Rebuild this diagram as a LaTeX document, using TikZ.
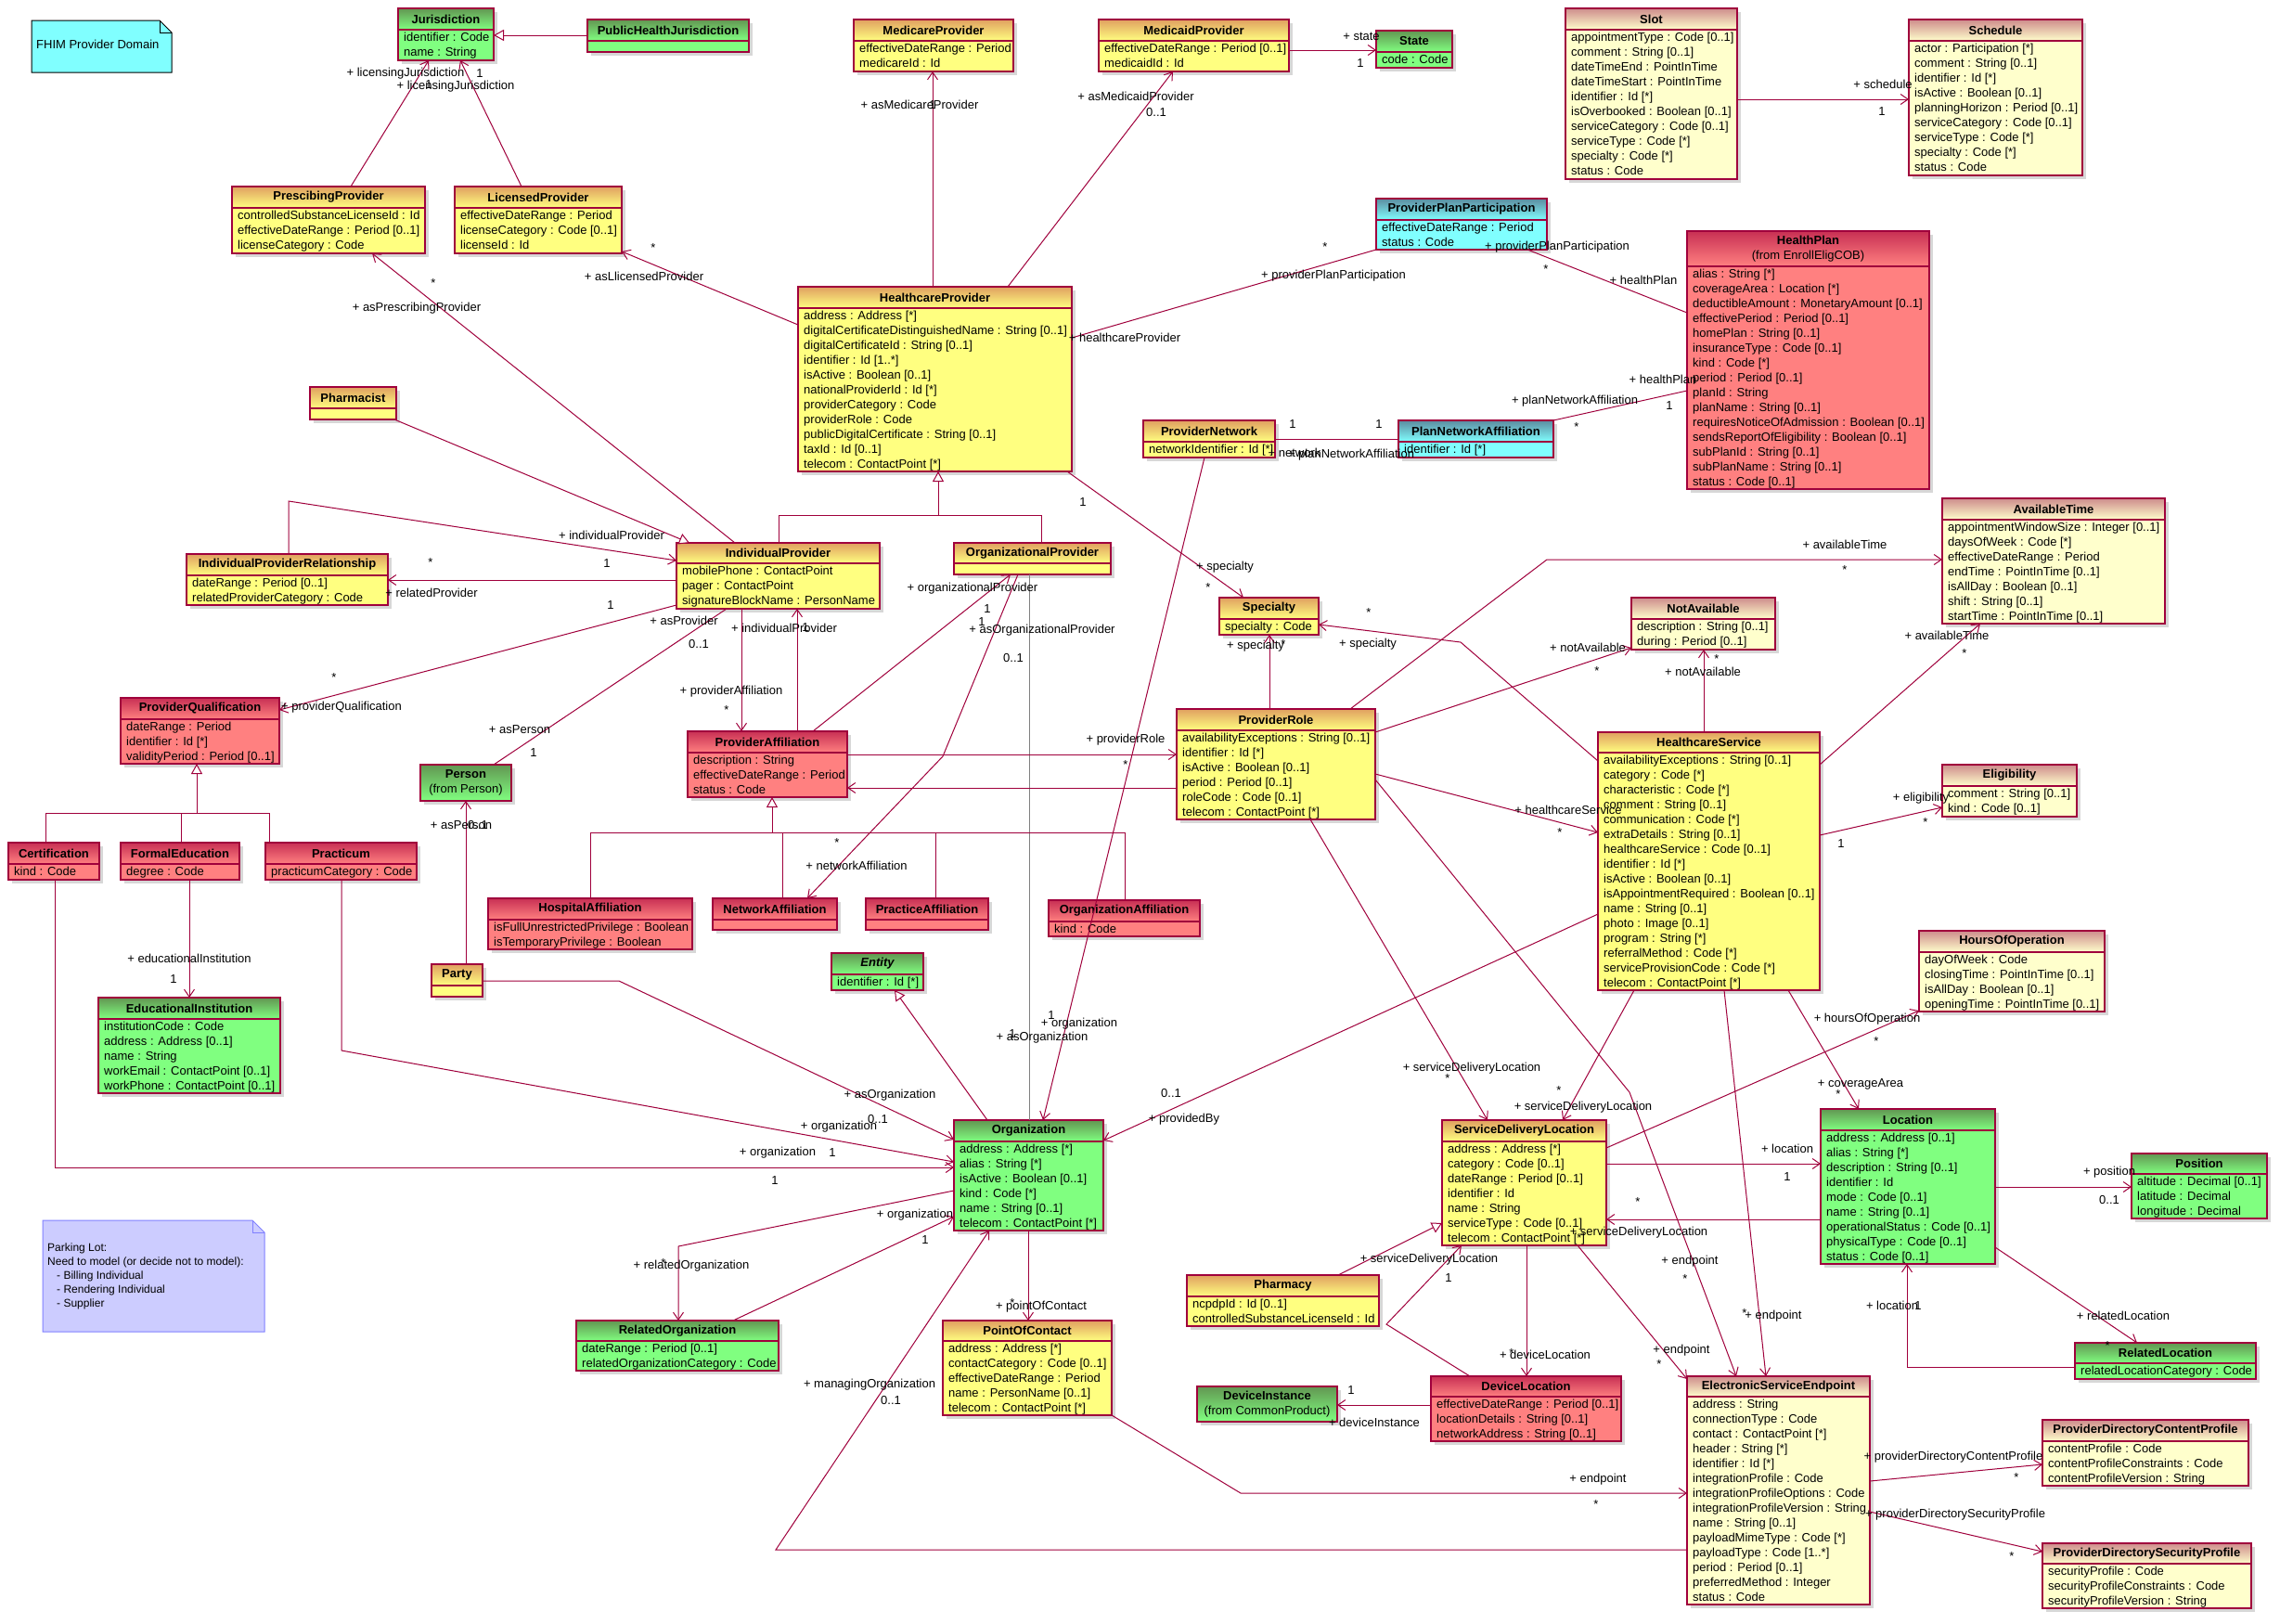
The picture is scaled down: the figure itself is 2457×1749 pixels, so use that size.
\documentclass[tikz,border=0pt]{standalone}
\usepackage{fontspec}
\setmainfont{Liberation Sans}
\usetikzlibrary{arrows.meta}
\definecolor{lc}{RGB}{160,0,60}
\definecolor{yelTop}{RGB}{224,160,96}
\definecolor{yelFill}{RGB}{255,255,128}
\definecolor{lyTop}{RGB}{206,140,140}
\definecolor{lyFill}{RGB}{255,255,204}
\definecolor{redTop}{RGB}{200,48,84}
\definecolor{redFill}{RGB}{255,128,128}
\definecolor{grnTop}{RGB}{98,150,82}
\definecolor{grnFill}{RGB}{128,255,128}
\definecolor{cyTop}{RGB}{92,140,160}
\definecolor{cyFill}{RGB}{128,255,255}
\definecolor{noteC}{RGB}{128,255,255}
\definecolor{parkFill}{RGB}{204,204,255}
\definecolor{parkLine}{RGB}{128,128,255}
\definecolor{shadowc}{RGB}{215,215,215}
\newcounter{labc}
\tikzset{
 lnk/.style={draw=lc, line width=1pt},
 nav/.style={lnk, -{Straight Barb[length=8pt,width=11pt]}},
 assoc/.style={lnk},
 gen/.style={lnk, -{Triangle[open,length=11pt,width=12pt,fill=white]}},
 lbl/.style={inner sep=0pt, font=\fontsize{13}{16}\selectfont},
 ttl/.style={inner sep=0pt, font=\bfseries\fontsize{13}{16}\selectfont, align=center},
 att/.style={inner sep=0pt, anchor=base west, font=\fontsize{13}{16}\selectfont},
 park/.style={inner sep=0pt, anchor=base west, font=\fontsize{12}{15}\selectfont},
}
\newcommand\umlc[9]{%
 \pgfmathsetmacro\uw{#4-#2}%
 \pgfmathsetmacro\uh{#6-#3}%
 \pgfmathsetmacro\ucx{(#2+#4)/2}%
 \pgfmathsetmacro\ucy{(#3+#6)/2}%
 \pgfmathsetmacro\uty{(#3+#5)/2}%
 \fill[shadowc] ({#2+4},{#3+4}) rectangle ({#4+4},{#6+4});
 \node[draw=lc, fill=#7Fill, minimum width=\uw pt, minimum height=\uh pt, inner sep=0pt, outer sep=0pt, line width=1.2pt] (#1) at (\ucx,\ucy) {};
 \shade[top color=#7Top, bottom color=#7Fill] (#2,#3) rectangle (#4,#5);
 \draw[lc, line width=1.2pt] (#2,#3) rectangle (#4,#6) (#2,#5) -- (#4,#5);
 \node[ttl] (#1-t) at (\ucx,\uty) {#8};
 \if\relax\detokenize{#9}\relax\else
 \foreach \attr [count=\i] in {#9} {\node[att] (#1-a\i) at ({#2+6},{#5+12.5+16*(\i-1)}) {\attr};}%
 \fi
}
\newcommand\lab[3]{\stepcounter{labc}\node[lbl] (lab\thelabc) at (#1,#2) {#3};}
\begin{document}
\begin{tikzpicture}[x=1pt,y=-1pt]
\useasboundingbox (0,0) rectangle (2457,1749);
\fill[white] (0,0) rectangle (2457,1749);

% notes
\filldraw[fill=noteC, draw=black, line width=1pt] (34,22) -- (172,22) -- (185,35) -- (185,78) -- (34,78) -- cycle;
\draw[line width=1pt] (172,22) -- (172,35) -- (185,35);
\node[lbl, anchor=west] (fhim) at (39,48) {FHIM Provider Domain};

\filldraw[fill=parkFill, draw=parkLine, line width=1pt] (46,1315) -- (272,1315) -- (285,1328) -- (285,1435) -- (46,1435) -- cycle;
\draw[parkLine, line width=1pt] (272,1315) -- (272,1328) -- (285,1328);
\node[park] (pk1) at (51,1348) {Parking Lot:};
\node[park] (pk2) at (51,1363) {Need to model (or decide not to model):};
\node[park] (pk3) at (61,1378) {- Billing Individual};
\node[park] (pk4) at (61,1393) {- Rendering Individual};
\node[park] (pk5) at (61,1408) {- Supplier};

% classes
\umlc{jur}{429}{9}{532}{32}{65}{grn}{Jurisdiction}{identifier : Code, name : String}
\umlc{phj}{633}{21}{807}{44}{56}{grn}{PublicHealthJurisdiction}{}
\umlc{presc}{250}{201}{458}{224}{273}{yel}{PrescibingProvider}{controlledSubstanceLicenseId : Id, effectiveDateRange : Period [0..1], licenseCategory : Code}
\umlc{lic}{490}{201}{670}{224}{273}{yel}{LicensedProvider}{effectiveDateRange : Period, licenseCategory : Code [0..1], licenseId : Id}
\umlc{medicare}{920}{21}{1092}{44}{77}{yel}{MedicareProvider}{effectiveDateRange : Period, medicareId : Id}
\umlc{medicaid}{1184}{21}{1389}{44}{77}{yel}{MedicaidProvider}{effectiveDateRange : Period [0..1], medicaidId : Id}
\umlc{state}{1483}{33}{1565}{56}{73}{grn}{State}{code : Code}
\umlc{slot}{1687}{9}{1872}{32}{193}{ly}{Slot}{appointmentType : Code [0..1], comment : String [0..1], dateTimeEnd : PointInTime, dateTimeStart : PointInTime, identifier : Id [*], isOverbooked : Boolean [0..1], serviceCategory : Code [0..1], serviceType : Code [*], specialty : Code [*], status : Code}
\umlc{sched}{2057}{21}{2244}{44}{189}{ly}{Schedule}{actor : Participation [*], comment : String [0..1], identifier : Id [*], isActive : Boolean [0..1], planningHorizon : Period [0..1], serviceCategory : Code [0..1], serviceType : Code [*], specialty : Code [*], status : Code}
\umlc{ppp}{1483}{214}{1667}{237}{269}{cy}{ProviderPlanParticipation}{effectiveDateRange : Period, status : Code}
\umlc{hplan}{1818}{249}{2079}{287}{527}{red}{HealthPlan\\\mdseries(from EnrollEligCOB)}{alias : String [*], coverageArea : Location [*], deductibleAmount : MonetaryAmount [0..1], effectivePeriod : Period [0..1], homePlan : String [0..1], insuranceType : Code [0..1], kind : Code [*], period : Period [0..1], planId : String, planName : String [0..1], requiresNoticeOfAdmission : Boolean [0..1], sendsReportOfEligibility : Boolean [0..1], subPlanId : String [0..1], subPlanName : String [0..1], status : Code [0..1]}
\umlc{hcp}{860}{309}{1155}{332}{508}{yel}{HealthcareProvider}{address : Address [*], digitalCertificateDistinguishedName : String [0..1], digitalCertificateId : String [0..1], identifier : Id [1..*], isActive : Boolean [0..1], nationalProviderId : Id [*], providerCategory : Code, providerRole : Code, publicDigitalCertificate : String [0..1], taxId : Id [0..1], telecom : ContactPoint [*]}
\umlc{pharmacist}{334}{417}{427}{440}{452}{yel}{Pharmacist}{}
\umlc{pnet}{1232}{453}{1374}{476}{493}{yel}{ProviderNetwork}{networkIdentifier : Id [*]}
\umlc{pna}{1507}{453}{1674}{476}{493}{cy}{PlanNetworkAffiliation}{identifier : Id [*]}
\umlc{ipr}{201}{597}{418}{620}{652}{yel}{IndividualProviderRelationship}{dateRange : Period [0..1], relatedProviderCategory : Code}
\umlc{indprov}{729}{585}{948}{607}{656}{yel}{IndividualProvider}{mobilePhone : ContactPoint, pager : ContactPoint, signatureBlockName : PersonName}
\umlc{orgprov}{1028}{585}{1197}{607}{619}{yel}{OrganizationalProvider}{}
\umlc{spec}{1314}{644}{1421}{667}{684}{yel}{Specialty}{specialty : Code}
\umlc{notav}{1758}{644}{1913}{667}{700}{ly}{NotAvailable}{description : String [0..1], during : Period [0..1]}
\umlc{avail}{2093}{537}{2333}{560}{672}{ly}{AvailableTime}{appointmentWindowSize : Integer [0..1], daysOfWeek : Code [*], effectiveDateRange : Period, endTime : PointInTime [0..1], isAllDay : Boolean [0..1], shift : String [0..1], startTime : PointInTime [0..1]}
\umlc{pqual}{130}{752}{301}{775}{823}{red}{ProviderQualification}{dateRange : Period, identifier : Id [*], validityPeriod : Period [0..1]}
\umlc{person}{453}{824}{551}{863}{863}{grn}{Person\\\mdseries(from Person)}{}
\umlc{paff}{741}{788}{913}{811}{859}{red}{ProviderAffiliation}{description : String, effectiveDateRange : Period, status : Code}
\umlc{prole}{1268}{764}{1482}{787}{883}{yel}{ProviderRole}{availabilityExceptions : String [0..1], identifier : Id [*], isActive : Boolean [0..1], period : Period [0..1], roleCode : Code [0..1], telecom : ContactPoint [*]}
\umlc{hcs}{1722}{789}{1961}{811}{1067}{yel}{HealthcareService}{availabilityExceptions : String [0..1], category : Code [*], characteristic : Code [*], comment : String [0..1], communication : Code [*], extraDetails : String [0..1], healthcareService : Code [0..1], identifier : Id [*], isActive : Boolean [0..1], isAppointmentRequired : Boolean [0..1], name : String [0..1], photo : Image [0..1], program : String [*], referralMethod : Code [*], serviceProvisionCode : Code [*], telecom : ContactPoint [*]}
\umlc{elig}{2093}{824}{2238}{847}{880}{ly}{Eligibility}{comment : String [0..1], kind : Code [0..1]}
\umlc{cert}{9}{908}{107}{931}{948}{red}{Certification}{kind : Code}
\umlc{formal}{130}{908}{258}{931}{948}{red}{FormalEducation}{degree : Code}
\umlc{pract}{286}{908}{449}{931}{948}{red}{Practicum}{practicumCategory : Code}
\umlc{hosp}{526}{968}{746}{991}{1023}{red}{HospitalAffiliation}{isFullUnrestrictedPrivilege : Boolean, isTemporaryPrivilege : Boolean}
\umlc{netaff}{768}{968}{902}{991}{1002}{red}{NetworkAffiliation}{}
\umlc{practaff}{933}{968}{1065}{991}{1002}{red}{PracticeAffiliation}{}
\umlc{orgaff}{1130}{970}{1293}{993}{1009}{red}{OrganizationAffiliation}{kind : Code}
\umlc{entity}{896}{1027}{995}{1050}{1067}{grn}{\itshape Entity}{identifier : Id [*]}
\umlc{hoo}{2068}{1003}{2268}{1026}{1090}{ly}{HoursOfOperation}{dayOfWeek : Code, closingTime : PointInTime [0..1], isAllDay : Boolean [0..1], openingTime : PointInTime [0..1]}
\umlc{party}{465}{1039}{520}{1062}{1074}{yel}{Party}{}
\umlc{edu}{106}{1075}{302}{1098}{1178}{grn}{EducationalInstitution}{institutionCode : Code, address : Address [0..1], name : String, workEmail : ContactPoint [0..1], workPhone : ContactPoint [0..1]}
\umlc{org}{1028}{1207}{1189}{1230}{1326}{grn}{Organization}{address : Address [*], alias : String [*], isActive : Boolean [0..1], kind : Code [*], name : String [0..1], telecom : ContactPoint [*]}
\umlc{sdl}{1554}{1207}{1731}{1230}{1342}{yel}{ServiceDeliveryLocation}{address : Address [*], category : Code [0..1], dateRange : Period [0..1], identifier : Id, name : String, serviceType : Code [0..1], telecom : ContactPoint [*]}
\umlc{loc}{1962}{1195}{2150}{1218}{1362}{grn}{Location}{address : Address [0..1], alias : String [*], description : String [0..1], identifier : Id, mode : Code [0..1], name : String [0..1], operationalStatus : Code [0..1], physicalType : Code [0..1], status : Code [0..1]}
\umlc{pos}{2297}{1243}{2443}{1265}{1313}{grn}{Position}{altitude : Decimal [0..1], latitude : Decimal, longitude : Decimal}
\umlc{pharmacy}{1279}{1374}{1486}{1397}{1429}{yel}{Pharmacy}{ncpdpId : Id [0..1], controlledSubstanceLicenseId : Id}
\umlc{relorg}{621}{1423}{839}{1445}{1477}{grn}{RelatedOrganization}{dateRange : Period [0..1], relatedOrganizationCategory : Code}
\umlc{poc}{1016}{1423}{1198}{1445}{1525}{yel}{PointOfContact}{address : Address [*], contactCategory : Code [0..1], effectiveDateRange : Period, name : PersonName [0..1], telecom : ContactPoint [*]}
\umlc{relloc}{2236}{1447}{2431}{1469}{1486}{grn}{RelatedLocation}{relatedLocationCategory : Code}
\umlc{devinst}{1290}{1494}{1441}{1532}{1532}{grn}{DeviceInstance\\\mdseries(from CommonProduct)}{}
\umlc{devloc}{1542}{1483}{1747}{1505}{1553}{red}{DeviceLocation}{effectiveDateRange : Period [0..1], locationDetails : String [0..1], networkAddress : String [0..1]}
\umlc{ese}{1818}{1483}{2015}{1505}{1729}{ly}{ElectronicServiceEndpoint}{address : String, connectionType : Code, contact : ContactPoint [*], header : String [*], identifier : Id [*], integrationProfile : Code, integrationProfileOptions : Code, integrationProfileVersion : String, name : String [0..1], payloadMimeType : Code [*], payloadType : Code [1..*], period : Period [0..1], preferredMethod : Integer, status : Code}
\umlc{pdcp}{2201}{1530}{2423}{1553}{1601}{ly}{ProviderDirectoryContentProfile}{contentProfile : Code, contentProfileConstraints : Code, contentProfileVersion : String}
\umlc{pdsp}{2201}{1663}{2426}{1685}{1733}{ly}{ProviderDirectorySecurityProfile}{securityProfile : Code, securityProfileConstraints : Code, securityProfileVersion : String}

% connectors
\draw[gen] (phj.west |- 0,38) -- (jur.east |- 0,38);
\draw[nav] (presc.north -| 378,0) -- (jur.south -| 462,0);
\draw[nav] (lic.north -| 562,0) -- (jur.south -| 496,0);
\draw[nav] (hcp.west |- 0,350) -- (lic.east |- 0,271);
\draw[nav] (indprov.north -| 792,0) -- (presc.south -| 401,0);
\draw[gen] (pharmacist.south -| 425,0) -- (indprov.north -| 743,0);
\draw[nav] (hcp.north -| 1005,0) -- (medicare.south -| 1005,0);
\draw[nav] (hcp.north -| 1086,0) -- (medicaid.south -| 1264,0);
\draw[nav] (medicaid.east |- 0,54) -- (state.west |- 0,54);
\draw[nav] (slot.east |- 0,107) -- (sched.west |- 0,107);
\draw[assoc] (hcp.east |- 0,364) -- (ppp.south west);
\draw[assoc] (ppp.south -| 1646,0) -- (hplan.west |- 0,337);
\draw[assoc] (pna.north east) -- (hplan.west |- 0,421);
\draw[assoc] (pnet.east |- 0,473) -- (pna.west |- 0,473);
\draw[assoc] (indprov.north -| 839,0) -- (839,555) -- (1122,555) -- (orgprov.north -| 1122,0);
\draw[gen] (1011,555) -- (hcp.south -| 1011,0);
\draw[nav] (hcp.south -| 1150,0) -- (spec.north -| 1340,0);
\draw[nav] (prole.north -| 1368,0) -- (spec.south -| 1368,0);
\draw[nav] (hcs.west |- 0,820) -- (1574,692) -- (spec.east |- 0,673);
\draw[nav] (paff.north -| 876,0) -- (orgprov.south -| 1089,0);
\draw[nav] (orgprov.south -| 1097,0) -- (1016,815) -- (netaff.north -| 870,0);
\draw[gray, line width=0.6pt] (orgprov.south -| 1109,0) -- (org.north -| 1109,0);
\draw[nav] (indprov.south -| 799,0) -- (paff.north -| 799,0);
\draw[nav] (paff.north -| 859,0) -- (indprov.south -| 859,0);
\draw[nav] (paff.east |- 0,813) -- (prole.west |- 0,813);
\draw[nav] (prole.west |- 0,849) -- (paff.east |- 0,849);
\draw[nav] (pnet.south -| 1298,0) -- (org.north -| 1124,0);
\draw[nav] (prole.north -| 1455,0) -- (1667,603) -- (avail.west |- 0,603);
\draw[nav] (prole.east |- 0,789) -- (notav.west |- 0,698);
\draw[nav] (prole.east |- 0,834) -- (hcs.west |- 0,897);
\draw[nav] (prole.east |- 0,840) -- (1756,1177) -- (ese.north -| 1871,0);
\draw[nav] (prole.south -| 1412,0) -- (sdl.north -| 1603,0);
\draw[nav] (hcs.west |- 0,985) -- (org.east |- 0,1229);
\draw[nav] (hcs.north -| 1836,0) -- (notav.south -| 1836,0);
\draw[nav] (hcs.east |- 0,824) -- (avail.south -| 2134,0);
\draw[nav] (hcs.east |- 0,900) -- (elig.west |- 0,870);
\draw[nav] (hcs.south -| 1761,0) -- (sdl.north -| 1684,0);
\draw[nav] (hcs.south -| 1858,0) -- (ese.north -| 1903,0);
\draw[nav] (hcs.south -| 1927,0) -- (loc.north -| 2003,0);
\draw[nav] (sdl.east |- 0,1237) -- (hoo.west |- 0,1089);
\draw[nav] (sdl.east |- 0,1254) -- (loc.west |- 0,1254);
\draw[nav] (loc.west |- 0,1314) -- (sdl.east |- 0,1314);
\draw[nav] (loc.east |- 0,1279) -- (pos.west |- 0,1279);
\draw[nav] (loc.east |- 0,1344) -- (relloc.north -| 2303,0);
\draw[nav] (relloc.west |- 0,1473) -- (2055,1473) -- (loc.south -| 2055,0);
\draw[nav] (sdl.south -| 1700,0) -- (ese.west |- 0,1486);
\draw[nav] (sdl.south -| 1645,0) -- (devloc.north -| 1645,0);
\draw[gen] (pharmacy.north -| 1442,0) -- (sdl.west |- 0,1318);
\draw[nav] (devloc.north -| 1584,0) -- (1494,1427) -- (sdl.south -| 1575,0);
\draw[nav] (devloc.west |- 0,1514) -- (devinst.east |- 0,1514);
\draw[nav] (org.south -| 1108,0) -- (poc.north -| 1108,0);
\draw[nav] (poc.south east) -- (1337,1609) -- (ese.west |- 0,1609);
\draw[nav] (ese.west |- 0,1670) -- (836,1670) -- (org.south -| 1066,0);
\draw[nav] (ese.east |- 0,1596) -- (pdcp.west |- 0,1578);
\draw[nav] (ese.east |- 0,1629) -- (pdsp.west |- 0,1672);
\draw[nav] (party.east |- 0,1057) -- (667,1057) -- (org.west |- 0,1228);
\draw[nav] (pract.south -| 368,0) -- (368,1132) -- (org.west |- 0,1252);
\draw[nav] (cert.south -| 59,0) -- (59,1258) -- (org.west |- 0,1258);
\draw[nav] (org.west |- 0,1283) -- (731,1343) -- (relorg.north -| 731,0);
\draw[nav] (relorg.north -| 790,0) -- (org.west |- 0,1311);
\draw[gen] (org.north -| 1064,0) -- (entity.south -| 964,0);
\draw[nav] (party.north -| 502,0) -- (person.south -| 502,0);
\draw[assoc] (person.north -| 532,0) -- (indprov.south -| 783,0);
\draw[nav] (indprov.west |- 0,652) -- (pqual.east |- 0,765);
\draw[assoc] (cert.north -| 49,0) -- (49,876) -- (290,876) -- (pract.north -| 290,0);
\draw[assoc] (formal.north -| 195,0) -- (195,876);
\draw[gen] (212,876) -- (pqual.south -| 212,0);
\draw[nav] (formal.south -| 204,0) -- (edu.north -| 204,0);
\draw[nav] (ipr.north -| 311,0) -- (311,540) -- (indprov.west |- 0,604);
\draw[nav] (indprov.west |- 0,625) -- (ipr.east |- 0,625);
\draw[assoc] (hosp.north -| 636,0) -- (636,897) -- (1212,897) -- (orgaff.north -| 1212,0);
\draw[assoc] (netaff.north -| 843,0) -- (843,897);
\draw[assoc] (practaff.north -| 1008,0) -- (1008,897);
\draw[gen] (832,897) -- (paff.south -| 832,0);

% labels
\lab{437}{79}{+ licensingJurisdiction}
\lab{517}{79}{1}
\lab{491}{93}{+ licensingJurisdiction}
\lab{462}{91}{1}
\lab{704}{267}{*}
\lab{694}{298}{+ asLlicensedProvider}
\lab{467}{305}{*}
\lab{449}{332}{+ asPrescribingProvider}
\lab{991}{113}{+ asMedicareProvider}
\lab{1005}{113}{1}
\lab{1224}{104}{+ asMedicaidProvider}
\lab{1246}{121}{0..1}
\lab{1467}{39}{+ state}
\lab{1466}{68}{1}
\lab{2029}{91}{+ schedule}
\lab{2028}{120}{1}
\lab{1212}{364}{+ healthcareProvider}
\lab{1428}{266}{*}
\lab{1437}{297}{+ providerPlanParticipation}
\lab{1678}{266}{+ providerPlanParticipation}
\lab{1666}{290}{*}
\lab{1771}{302}{+ healthPlan}
\lab{1792}{409}{+ healthPlan}
\lab{1799}{437}{1}
\lab{1697}{432}{+ planNetworkAffiliation}
\lab{1699}{460}{*}
\lab{1393}{457}{1}
\lab{1486}{457}{1}
\lab{1395}{488}{+ network}
\lab{1456}{490}{+ planNetworkAffiliation}
\lab{1167}{541}{1}
\lab{1320}{611}{+ specialty}
\lab{1302}{633}{*}
\lab{1353}{696}{+ specialty}
\lab{1383}{694}{*}
\lab{1475}{660}{*}
\lab{1474}{694}{+ specialty}
\lab{1048}{634}{+ organizationalProvider}
\lab{1064}{656}{1}
\lab{1123}{679}{+ asOrganizationalProvider}
\lab{1058}{670}{1}
\lab{1092}{709}{0..1}
\lab{902}{908}{*}
\lab{923}{933}{+ networkAffiliation}
\lab{1123}{1118}{+ asOrganization}
\lab{1091}{1114}{1}
\lab{788}{745}{+ providerAffiliation}
\lab{783}{765}{*}
\lab{845}{677}{+ individualProvider}
\lab{868}{676}{1}
\lab{1213}{797}{+ providerRole}
\lab{1213}{824}{*}
\lab{1133}{1094}{1}
\lab{1163}{1103}{+ organization}
\lab{1988}{587}{+ availableTime}
\lab{1988}{614}{*}
\lab{1711}{698}{+ notAvailable}
\lab{1721}{723}{*}
\lab{1690}{873}{+ healthcareService}
\lab{1681}{897}{*}
\lab{1821}{1359}{+ endpoint}
\lab{1816}{1378}{*}
\lab{1586}{1151}{+ serviceDeliveryLocation}
\lab{1560}{1162}{*}
\lab{1262}{1178}{0..1}
\lab{1276}{1206}{+ providedBy}
\lab{1835}{724}{+ notAvailable}
\lab{1850}{710}{*}
\lab{2098}{685}{+ availableTime}
\lab{2117}{704}{*}
\lab{2070}{860}{+ eligibility}
\lab{2075}{886}{*}
\lab{1984}{909}{1}
\lab{1680}{1175}{*}
\lab{1706}{1193}{+ serviceDeliveryLocation}
\lab{1911}{1418}{+ endpoint}
\lab{1880}{1415}{*}
\lab{2005}{1168}{+ coverageArea}
\lab{1981}{1179}{*}
\lab{2012}{1098}{+ hoursOfOperation}
\lab{2022}{1122}{*}
\lab{1926}{1238}{+ location}
\lab{1926}{1268}{1}
\lab{1765}{1295}{*}
\lab{1766}{1328}{+ serviceDeliveryLocation}
\lab{2273}{1263}{+ position}
\lab{2273}{1293}{0..1}
\lab{2288}{1418}{+ relatedLocation}
\lab{2271}{1450}{*}
\lab{2039}{1407}{+ location}
\lab{2067}{1407}{1}
\lab{1812}{1455}{+ endpoint}
\lab{1788}{1470}{*}
\lab{1665}{1460}{+ deviceLocation}
\lab{1629}{1458}{*}
\lab{1561}{1377}{1}
\lab{1540}{1357}{+ serviceDeliveryLocation}
\lab{1456}{1498}{1}
\lab{1481}{1533}{+ deviceInstance}
\lab{1122}{1408}{+ pointOfContact}
\lab{1091}{1404}{*}
\lab{1722}{1594}{+ endpoint}
\lab{1720}{1621}{*}
\lab{937}{1492}{+ managingOrganization}
\lab{960}{1509}{0..1}
\lab{2105}{1570}{+ providerDirectoryContentProfile}
\lab{2173}{1592}{*}
\lab{2107}{1632}{+ providerDirectorySecurityProfile}
\lab{2168}{1677}{*}
\lab{959}{1180}{+ asOrganization}
\lab{946}{1206}{0..1}
\lab{904}{1214}{+ organization}
\lab{838}{1242}{+ organization}
\lab{897}{1242}{1}
\lab{835}{1272}{1}
\lab{745}{1364}{+ relatedOrganization}
\lab{715}{1361}{*}
\lab{986}{1309}{+ organization}
\lab{997}{1336}{1}
\lab{497}{889}{+ asPerson}
\lab{515}{889}{0..1}
\lab{560}{786}{+ asPerson}
\lab{575}{811}{1}
\lab{737}{669}{+ asProvider}
\lab{753}{694}{0..1}
\lab{658}{652}{1}
\lab{360}{730}{*}
\lab{368}{762}{+ providerQualification}
\lab{204}{1033}{+ educationalInstitution}
\lab{187}{1055}{1}
\lab{659}{577}{+ individualProvider}
\lab{654}{607}{1}
\lab{464}{606}{*}
\lab{465}{639}{+ relatedProvider}
\end{tikzpicture}
\end{document}
